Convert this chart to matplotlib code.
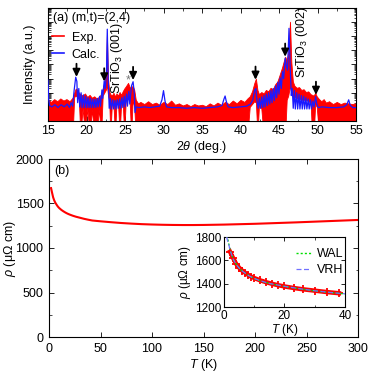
import numpy as np
import matplotlib
matplotlib.use("Agg")
import matplotlib.pyplot as plt
from matplotlib.ticker import MultipleLocator, LogLocator, NullFormatter
from matplotlib.lines import Line2D

plt.rcParams['font.family'] = ['Liberation Sans', 'DejaVu Sans']
plt.rcParams['mathtext.fontset'] = 'custom'
plt.rcParams['mathtext.rm'] = 'Liberation Sans'
plt.rcParams['mathtext.it'] = 'Liberation Sans:italic'
plt.rcParams['mathtext.bf'] = 'Liberation Sans:bold'

# ---------------- (a) XRD data (log10 intensity, a.u.) ----------------
exp_2theta = [15.0, 15.4, 15.8, 16.2, 16.6, 17.0, 17.4, 17.8, 18.2, 18.4, 18.6, 18.8, 19.0, 19.2,
              19.5, 19.8, 20.1, 20.4, 20.7, 21.0, 21.3, 21.6, 21.9, 22.1, 22.3, 22.5, 22.65, 22.8,
              22.95, 23.1, 23.3, 23.5, 23.7, 23.9, 24.1, 24.3, 24.5, 24.7, 24.9, 25.1, 25.4, 25.6,
              25.8, 26.0, 26.2, 26.4, 26.7, 27.0, 27.5, 28.0, 28.5, 29.0, 29.5, 30.0, 30.5, 31.0,
              31.5, 32.0, 32.5, 33.0, 33.5, 34.0, 34.5, 35.0, 35.5, 36.0, 36.5, 37.0, 37.5, 38.0,
              38.5, 39.0, 39.5, 40.0, 40.5, 40.9, 41.2, 41.5, 41.8, 42.0, 42.2, 42.4, 42.7, 43.0,
              43.3, 43.6, 43.9, 44.2, 44.5, 44.8, 45.1, 45.4, 45.6, 45.8, 46.0, 46.2, 46.43, 46.6,
              46.8, 47.0, 47.3, 47.6, 47.9, 48.2, 48.5, 48.8, 49.1, 49.3, 49.5, 49.7, 49.9, 50.2,
              50.5, 50.8, 51.1, 51.5, 52.0, 52.5, 53.0, 53.5, 54.0, 54.5, 55.0]
exp_upper = [1.50, 1.35, 1.55, 1.40, 1.60, 1.45, 1.55, 1.40, 1.65, 2.00, 2.30, 2.20, 2.00, 1.90,
             1.80, 1.95, 1.70, 1.85, 1.65, 1.75, 1.60, 1.70, 1.90, 2.30, 2.70, 3.20, 6.10, 3.00,
             2.10, 1.90, 1.80, 2.00, 1.75, 1.95, 1.80, 2.05, 1.85, 2.10, 2.30, 2.45, 2.70, 2.40,
             2.35, 2.50, 2.20, 1.50, 1.25, 1.35, 1.20, 1.40, 1.20, 1.30, 1.15, 1.35, 1.20, 1.45,
             1.15, 1.25, 1.10, 1.20, 1.05, 1.20, 1.10, 1.15, 1.05, 1.25, 1.10, 1.30, 1.15, 1.35,
             1.20, 1.45, 1.25, 1.50, 1.35, 1.60, 1.75, 2.10, 2.70, 3.00, 2.20, 1.90, 2.05, 1.95,
             2.20, 2.10, 2.35, 2.25, 2.60, 2.80, 3.30, 3.80, 4.20, 4.55, 4.30, 4.80, 7.03, 4.20,
             2.80, 2.50, 2.35, 2.40, 2.20, 2.25, 2.05, 2.10, 1.90, 1.85, 1.80, 2.00, 1.75, 1.55,
             1.40, 1.55, 1.30, 1.40, 1.20, 1.35, 1.20, 1.30, 1.25, 1.20, 1.25]
exp_lower = [-1, -1, -1, -1, -1, -1, -1, -1, -1, 1.7, 1.8, 1.7, 1.6, -1,
             0.9, -1, 0.9, -1, 0.8, -1, -1, 0.8, -1, 1.8, 2.0, 2.2, 2.5, 1.8,
             1.4, -1, 1.3, 1.2, -1, 1.3, 1.2, -1, 1.3, 1.4, -1, 1.5, 1.6, 1.4,
             -1, 1.5, 1.0, -1, -1, -1, -1, -1, -1, -1, -1, -1, -1, -1,
             -1, -1, -1, -1, -1, -1, -1, -1, -1, -1, -1, -1, -1, -1,
             -1, -1, -1, -1, -1, -1, 1.0, 1.2, 1.4, 1.3, -1, 1.1, 0.9, -1,
             -1, -1, -1, -1, -1, -1, -1, -1, -1, -1, 1.5, 1.8, 2.5, 2.0,
             1.7, 1.7, 1.6, 1.6, 1.5, 1.5, 1.5, 1.4, 1.3, -1, -1, 1.2, 1.0, -1,
             -1, -1, -1, -1, -1, -1, -1, -1, -1, -1, -1]

calc_2theta = [15.0, 15.08, 15.2, 15.5, 15.9, 16.3, 16.7, 17.1, 17.5, 17.8, 18.0, 18.2, 18.4, 18.6,
               18.75, 18.85, 19.0, 19.12, 19.3, 19.42, 19.6, 19.72, 19.9, 20.02, 20.2, 20.32, 20.5,
               20.62, 20.8, 20.92, 21.1, 21.22, 21.4, 21.52, 21.7, 21.82, 22.0, 22.1, 22.3, 22.45,
               22.6, 22.7, 22.82, 22.95, 23.1, 23.22, 23.4, 23.52, 23.7, 23.82, 24.0, 24.12, 24.3,
               24.42, 24.6, 24.72, 24.9, 25.02, 25.2, 25.32, 25.5, 25.62, 25.85, 26.05, 26.2, 26.3,
               26.45, 26.8, 27.5, 28.2, 28.9, 29.5, 29.8, 30.0, 30.2, 30.4, 31.0, 32.0, 33.0, 34.0,
               35.0, 36.0, 37.0, 37.6, 37.85, 38.0, 38.15, 38.4, 39.0, 40.0, 40.8, 41.3, 41.6, 41.85,
               42.0, 42.15, 42.3, 42.45, 42.6, 42.75, 42.9, 43.05, 43.2, 43.35, 43.5, 43.65, 43.8,
               43.95, 44.1, 44.25, 44.4, 44.55, 44.7, 44.85, 45.0, 45.15, 45.3, 45.45, 45.6, 45.8,
               45.95, 46.1, 46.3, 46.45, 46.6, 46.72, 46.85, 47.0, 47.12, 47.3, 47.42, 47.6, 47.72,
               47.9, 48.02, 48.2, 48.32, 48.5, 48.62, 48.8, 48.92, 49.1, 49.22, 49.4, 49.55, 49.75,
               49.9, 50.1, 50.6, 51.5, 52.5, 53.4, 53.8, 54.05, 54.25, 54.6, 55.0]
calc_intensity = [2.90, 1.60, 1.10, 1.00, 1.15, 0.95, 1.15, 1.00, 1.20, 0.95, 1.30, 1.05, 2.20, 3.10,
                  2.80, 1.30, 2.30, 1.00, 2.00, 0.95, 1.85, 0.95, 1.75, 0.95, 1.65, 0.95, 1.60,
                  0.95, 1.55, 0.95, 1.55, 0.95, 1.60, 1.00, 1.75, 1.05, 2.20, 1.60, 2.85, 2.30,
                  3.50, 6.50, 3.00, 0.90, 1.60, 0.85, 1.50, 0.85, 1.45, 0.85, 1.50, 0.90, 1.55,
                  0.90, 1.65, 0.95, 1.75, 1.00, 1.90, 1.05, 2.10, 1.20, 2.50, 2.78, 2.00, 0.60,
                  1.00, 0.95, 1.00, 0.95, 1.00, 1.05, 1.50, 2.15, 1.40, 1.00, 0.95, 0.95, 0.90, 0.95,
                  0.90, 0.95, 1.00, 1.10, 1.55, 1.77, 1.40, 1.00, 0.95, 1.00, 1.05, 1.20, 1.50, 2.20,
                  2.30, 1.40, 0.90, 1.60, 0.90, 1.70, 0.95, 1.80, 1.00, 1.90, 1.10, 2.00, 1.20,
                  2.15, 1.30, 2.30, 1.45, 2.50, 1.65, 2.75, 1.90, 3.05, 2.30, 3.50, 3.00, 4.45,
                  3.90, 3.60, 6.56, 3.80, 1.80, 2.30, 0.90, 2.15, 0.85, 2.00, 0.85, 1.90, 0.85,
                  1.80, 0.85, 1.75, 0.85, 1.65, 0.85, 1.55, 0.85, 1.50, 0.85, 1.40, 1.00, 1.72,
                  1.20, 0.95, 1.00, 0.95, 0.95, 1.00, 1.15, 1.50, 1.10, 0.95, 0.95]

arrow_2theta = [18.7, 22.3, 26.05, 41.95, 45.8, 49.8]
arrow_tip = [3.12, 2.80, 2.90, 2.92, 4.55, 1.85]

# ---------------- (b) resistivity data ----------------
T_K = [2, 3, 4, 5, 6, 7, 8, 9, 10, 12, 14, 16, 18, 20, 23, 26, 30, 34, 38, 42, 50, 60, 70, 80,
       90, 100, 110, 120, 130, 140, 150, 160, 170, 180, 190, 200, 220, 240, 260, 280, 300]
rho = [1673, 1620, 1570, 1537, 1512, 1493, 1475, 1460, 1448, 1428, 1412, 1398, 1386, 1376, 1363,
       1352, 1340, 1328, 1318, 1309, 1300, 1290, 1281, 1274, 1268, 1264, 1261, 1259, 1258, 1258,
       1259, 1261, 1263, 1266, 1269, 1272, 1280, 1288, 1297, 1306, 1315]

fit_T = [0.9, 1.1, 1.5, 2, 3, 4, 5, 6, 8, 10, 12, 15, 20, 25, 30, 35, 40]
fit_wal = [1850, 1800, 1750, 1690, 1615, 1568, 1535, 1510, 1472, 1445, 1425, 1402, 1376, 1356,
           1338, 1324, 1312]
fit_vrh = [1800, 1775, 1745, 1688, 1612, 1566, 1534, 1509, 1471, 1445, 1425, 1402, 1377, 1357,
           1339, 1325, 1313]

RED = '#ff0000'
BLUE = '#1a1aff'

fig = plt.figure(figsize=(3.74, 3.74), dpi=100)

# ---------- top panel ----------
ax1 = fig.add_axes([48 / 374, 1 - 121 / 374, 308 / 374, 113 / 374])
x_exp = np.array(exp_2theta)
ax1.fill_between(x_exp, 10 ** np.array(exp_lower, dtype=float), 10 ** np.array(exp_upper),
                 color=RED, lw=0.6, edgecolor=RED, zorder=2)
ax1.plot(calc_2theta, 10 ** np.array(calc_intensity), color=BLUE, lw=0.9, zorder=3)
ax1.set_yscale('log')
ax1.set_xlim(15, 55)
ax1.set_ylim(1, 1e8)
ax1.xaxis.set_major_locator(MultipleLocator(5))
ax1.xaxis.set_minor_locator(MultipleLocator(2.5))
ax1.yaxis.set_major_locator(LogLocator(base=10, numticks=20))
ax1.yaxis.set_minor_locator(LogLocator(base=10, subs=np.arange(2, 10), numticks=20))
ax1.yaxis.set_major_formatter(NullFormatter())
ax1.yaxis.set_minor_formatter(NullFormatter())
ax1.tick_params(which='both', direction='in', top=True, right=True, labelsize=9, pad=3)
ax1.tick_params(which='major', length=3.5, width=0.6)
ax1.tick_params(which='minor', length=1.8, width=0.5)
ax1.set_xlabel(r'2$\theta$ (deg.)', fontsize=9, labelpad=1)
ax1.set_ylabel('Intensity (a.u.)', fontsize=9)
ax1.yaxis.set_label_coords(-0.04, 0.5)

handles = [Line2D([], [], color=RED, lw=1.2), Line2D([], [], color=BLUE, lw=1.2)]
ax1.legend(handles, ['Exp.', 'Calc.'], loc='upper left', bbox_to_anchor=(0.012, 0.79),
           frameon=False, fontsize=9, handlelength=1.0, handletextpad=0.6,
           labelspacing=0.4, borderaxespad=0, borderpad=0)
ax1.text(0.015, 0.915, '(a) (m,t)=(2,4)', transform=ax1.transAxes, fontsize=9,
         ha='left', va='center')
ax1.text(23.9, 10 ** 4.45, r'SrTiO$_3$ (001)', rotation=90, fontsize=9,
         ha='center', va='center')
ax1.text(48.0, 10 ** 5.6, r'SrTiO$_3$ (002)', rotation=90, fontsize=9,
         ha='center', va='center')
ax1.text(25.4, 10 ** 2.85, '*', color='#777777', fontsize=9, ha='center', va='center')
for xa, ya in zip(arrow_2theta, arrow_tip):
    ax1.annotate('', xy=(xa, 10 ** ya), xytext=(0, 9.5), textcoords='offset points',
                 arrowprops=dict(arrowstyle='-|>,head_length=0.45,head_width=0.22',
                                 color='black', lw=1.3, shrinkA=0, shrinkB=0), zorder=5)

# ---------- bottom panel ----------
ax2 = fig.add_axes([49 / 374, 1 - 337 / 374, 309 / 374, 178 / 374])
ax2.plot(T_K, rho, color=RED, lw=1.5)
ax2.set_xlim(0, 300)
ax2.set_ylim(0, 2000)
ax2.xaxis.set_major_locator(MultipleLocator(50))
ax2.yaxis.set_major_locator(MultipleLocator(500))
ax2.yaxis.set_minor_locator(MultipleLocator(250))
ax2.tick_params(which='both', direction='in', top=True, right=True, labelsize=9, pad=4)
ax2.tick_params(which='major', length=3.5, width=0.6)
ax2.tick_params(which='minor', length=1.8, width=0.5)
ax2.set_xlabel(r'$T$ (K)', fontsize=9, labelpad=2)
ax2.set_ylabel(r'$\rho$ (μΩ cm)', fontsize=9)
ax2.yaxis.set_label_coords(-0.10, 0.5)
ax2.text(0.018, 0.93, '(b)', transform=ax2.transAxes, fontsize=9, ha='left', va='center')

# ---------- inset ----------
ax3 = fig.add_axes([224 / 374, 1 - 307 / 374, 121 / 374, 70 / 374])
T_in = [t for t in T_K if t <= 40]
rho_in = [r for t, r in zip(T_K, rho) if t <= 40]
ax3.plot(T_in, rho_in, color=RED, lw=3.2, zorder=2)
ax3.plot(T_in, rho_in, ls='none', marker='+', ms=5.5, mew=1.3, color=RED, zorder=2)
ax3.plot(fit_T, fit_wal, color='#00e000', lw=1.0, ls=(0, (1.5, 1.5)), label='WAL', zorder=3)
ax3.plot(fit_T, fit_vrh, color='#7070ff', lw=0.9, ls=(0, (4, 2)), label='VRH', zorder=3)
ax3.set_xlim(0, 40)
ax3.set_ylim(1200, 1800)
ax3.xaxis.set_major_locator(MultipleLocator(20))
ax3.xaxis.set_minor_locator(MultipleLocator(10))
ax3.yaxis.set_major_locator(MultipleLocator(200))
ax3.tick_params(which='both', direction='in', top=True, right=True, labelsize=8.5, pad=2)
ax3.tick_params(which='major', length=3, width=0.6)
ax3.tick_params(which='minor', length=1.8, width=0.5)
ax3.set_xlabel(r'$T$ (K)', fontsize=8.5, labelpad=0)
ax3.set_ylabel(r'$\rho$ (μΩ cm)', fontsize=8.5, labelpad=1)
ax3.legend(loc='upper right', bbox_to_anchor=(0.99, 0.84), frameon=False, fontsize=9,
           handlelength=1.2, handletextpad=0.5, labelspacing=0.3, borderaxespad=0, borderpad=0)

for ax in (ax1, ax2, ax3):
    for s in ax.spines.values():
        s.set_linewidth(0.8)

fig.savefig('out.png', dpi=100)
